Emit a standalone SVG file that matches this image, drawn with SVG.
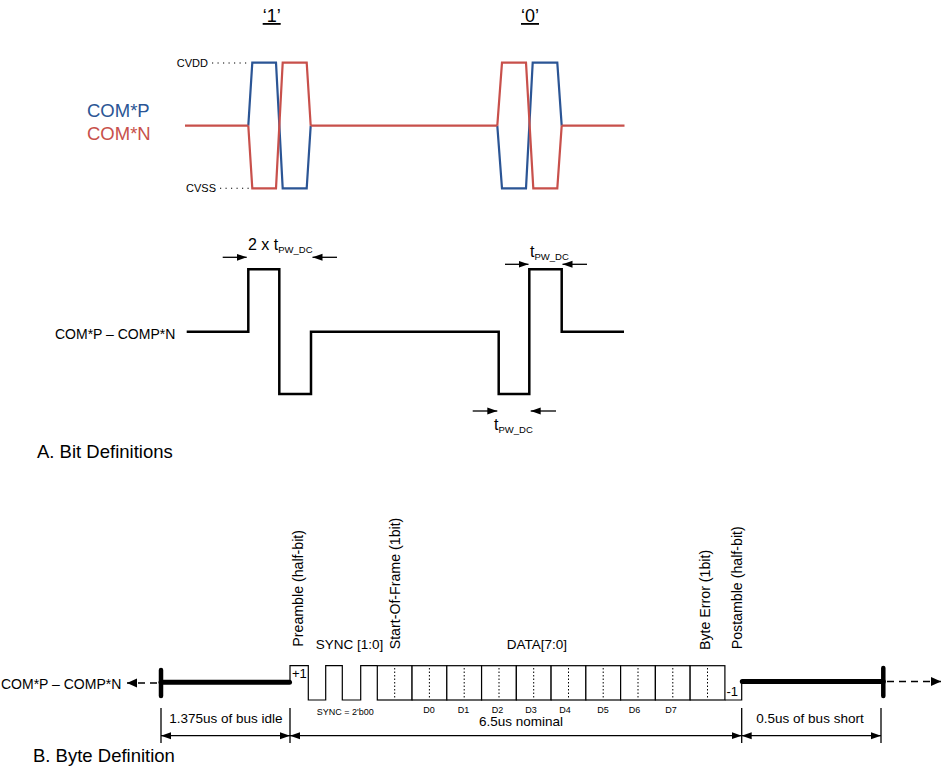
<svg xmlns="http://www.w3.org/2000/svg" width="942" height="769" viewBox="0 0 942 769">
<defs>
<style>
text{font-family:"Liberation Sans",Arial,sans-serif;fill:#000}
.blue{stroke:#2B5595;fill:none;stroke-width:2.2;stroke-linejoin:miter}
.red{stroke:#C8504B;fill:none;stroke-width:2.2;stroke-linejoin:miter}
.sig{stroke:#000;fill:none;stroke-width:2.5;stroke-linejoin:miter}
.thin{stroke:#000;fill:none;stroke-width:1.2}
.dim{stroke:#000;fill:none;stroke-width:1.3}
.dot{stroke:#000;stroke-width:1.1;stroke-dasharray:1.2 4.3;fill:none}
.bdot{stroke:#000;stroke-width:1;stroke-dasharray:1.5 2;fill:none}
.thick{stroke:#000;stroke-width:5;stroke-linecap:round;fill:none}
.tick{stroke:#000;stroke-width:4.5;stroke-linecap:round;fill:none}
.dash{stroke:#000;stroke-width:1.5;stroke-dasharray:7 5;fill:none}
.box{fill:#fff;stroke:#000;stroke-width:1.2}
.rot{font-size:14.2px}
.dl{font-size:9px;text-anchor:middle}
</style>
<marker id="ah" markerUnits="userSpaceOnUse" markerWidth="11" markerHeight="8" refX="10" refY="4" orient="auto-start-reverse"><path d="M0,0.5 L10,4 L0,7.5 z" fill="#000"/></marker>
<marker id="ahb" markerUnits="userSpaceOnUse" markerWidth="11" markerHeight="10" refX="10" refY="5" orient="auto-start-reverse"><path d="M0,0.5 L10,5 L0,9.5 z" fill="#000"/></marker>
</defs>
<rect width="942" height="769" fill="#fff"/>

<!-- A. Bit definitions: line-level waveforms -->
<g id="bit-labels">
  <text x="271.7" y="22" font-size="18" text-anchor="middle" text-decoration="underline">‘1’</text>
  <text x="530" y="22" font-size="18" text-anchor="middle" text-decoration="underline">‘0’</text>
  <text x="208" y="66.5" font-size="11" text-anchor="end">CVDD</text>
  <text x="216" y="191.5" font-size="11" text-anchor="end">CVSS</text>
  <line class="dot" x1="212" y1="63" x2="248" y2="63"/>
  <line class="dot" x1="220" y1="188.3" x2="252" y2="188.3"/>
  <text x="87" y="116.5" font-size="18.5" fill="#2B5595" style="fill:#2B5595">COM*P</text>
  <text x="87" y="140" font-size="18.5" style="fill:#C8504B">COM*N</text>
</g>
<g id="line-waveforms">
  <path class="blue" d="M248.3,125.7 L252.3,62.7 L276,62.7 L282.7,188.3 L306.7,188.3 L310.7,125.7"/>
  <path class="red" d="M248.3,125.7 L252.3,188.3 L276,188.3 L282.7,62.7 L306.7,62.7 L310.7,125.7"/>
  <path class="blue" d="M497.3,125.7 L502,188.3 L526,188.3 L532.7,62.7 L557.3,62.7 L561.7,125.7"/>
  <path class="red" d="M497.3,125.7 L502,62.7 L526,62.7 L533.3,188.3 L557.3,188.3 L561.7,125.7"/>
  <path class="red" d="M185,125.7 H248.3 M310.7,125.7 H497.3 M561.7,125.7 H624.5"/>
</g>

<!-- differential waveform -->
<g id="diff-waveform">
  <text x="55" y="338.5" font-size="14">COM*P – COMP*N</text>
  <path class="sig" d="M186.7,331.7 H248.3 V269.3 H279.3 V394 H311 V331.7 H498.7 V394 H529.3 V269.3 H561.7 V331.7 H624"/>
  <text x="248" y="250" font-size="16">2 x t<tspan font-size="9.5" dy="3">PW_DC</tspan></text>
  <text x="530" y="257" font-size="16">t<tspan font-size="9.5" dy="3">PW_DC</tspan></text>
  <text x="494" y="430" font-size="16">t<tspan font-size="9.5" dy="3">PW_DC</tspan></text>
</g>
<g id="connectors">
  <line class="dim" x1="222.7" y1="257.3" x2="246.7" y2="257.3" marker-end="url(#ah)"/>
  <line class="dim" x1="337" y1="257.3" x2="312.5" y2="257.3" marker-end="url(#ah)"/>
  <line class="dim" x1="505" y1="264.3" x2="528.5" y2="264.3" marker-end="url(#ah)"/>
  <line class="dim" x1="587" y1="264.3" x2="562.5" y2="264.3" marker-end="url(#ah)"/>
  <line class="dim" x1="472.7" y1="411" x2="497.3" y2="411" marker-end="url(#ah)"/>
  <line class="dim" x1="556" y1="411" x2="530.7" y2="411" marker-end="url(#ah)"/>
  <!-- byte definition dimension lines -->
  <line class="dim" x1="161" y1="708" x2="161" y2="743"/>
  <line class="dim" x1="290" y1="708" x2="290" y2="743"/>
  <line class="dim" x1="741.7" y1="708" x2="741.7" y2="743"/>
  <line class="dim" x1="881" y1="708" x2="881" y2="743"/>
  <line class="dim" x1="161" y1="735.7" x2="290" y2="735.7" marker-start="url(#ah)" marker-end="url(#ah)"/>
  <line class="dim" x1="290" y1="735.7" x2="741.7" y2="735.7" marker-start="url(#ah)" marker-end="url(#ah)"/>
  <line class="dim" x1="741.7" y1="735.7" x2="881" y2="735.7" marker-start="url(#ah)" marker-end="url(#ah)"/>
  <line class="dash" x1="157" y1="683" x2="127" y2="683" marker-end="url(#ahb)"/>
  <line class="dash" x1="887" y1="681.5" x2="941" y2="681.5" marker-end="url(#ahb)"/>
</g>
<text x="37" y="458" font-size="18.5">A. Bit Definitions</text>

<!-- B. Byte definition -->
<g id="byte-waveform">
  <text x="1" y="689" font-size="14">COM*P – COMP*N</text>
  <line class="thick" x1="161" y1="682.3" x2="289.5" y2="682.3"/>
  <line class="tick" x1="161" y1="670" x2="161" y2="696"/>
  <line class="thick" x1="742.3" y1="681.5" x2="883.3" y2="681.5"/>
  <line class="tick" x1="883.3" y1="668" x2="883.3" y2="696"/>
  <path class="thin" d="M290,682 V665.7 H308.3 V700 H325.7 V665.7 H342.3 V700 H360.7 V665.7 H377.3"/>
  <path class="thin" d="M724.9,700 H741.7 V681.5"/>
  <text x="292" y="678" font-size="13">+1</text>
  <text x="726.5" y="696" font-size="13">-1</text>
</g>
<g id="bit-boxes">
  <rect class="box" x="377.3" y="665.7" width="34.76" height="34.3"/>
  <rect class="box" x="412.06" y="665.7" width="34.76" height="34.3"/>
  <rect class="box" x="446.82" y="665.7" width="34.76" height="34.3"/>
  <rect class="box" x="481.58" y="665.7" width="34.76" height="34.3"/>
  <rect class="box" x="516.34" y="665.7" width="34.76" height="34.3"/>
  <rect class="box" x="551.1" y="665.7" width="34.76" height="34.3"/>
  <rect class="box" x="585.86" y="665.7" width="34.76" height="34.3"/>
  <rect class="box" x="620.62" y="665.7" width="34.76" height="34.3"/>
  <rect class="box" x="655.38" y="665.7" width="34.76" height="34.3"/>
  <rect class="box" x="690.14" y="665.7" width="34.76" height="34.3"/>
  <path class="bdot" d="M394.7,668 V699 M429.4,668 V699 M464.2,668 V699 M499,668 V699 M533.7,668 V699 M568.5,668 V699 M603.2,668 V699 M638,668 V699 M672.8,668 V699 M707.5,668 V699"/>
  <text class="dl" x="429" y="713">D0</text>
  <text class="dl" x="463.5" y="713">D1</text>
  <text class="dl" x="497.5" y="713">D2</text>
  <text class="dl" x="531" y="713">D3</text>
  <text class="dl" x="565" y="713">D4</text>
  <text class="dl" x="603" y="713">D5</text>
  <text class="dl" x="634.5" y="713">D6</text>
  <text class="dl" x="671" y="713">D7</text>
  <text x="316.7" y="714.5" font-size="9">SYNC = 2'b00</text>
</g>
<g id="byte-labels">
  <text class="rot" transform="translate(302.5,646.7) rotate(-90)">Preamble (half-bit)</text>
  <text class="rot" transform="translate(399.5,649.3) rotate(-90)">Start-Of-Frame (1bit)</text>
  <text class="rot" transform="translate(709.5,650) rotate(-90)">Byte Error (1bit)</text>
  <text class="rot" transform="translate(741.5,649.3) rotate(-90)">Postamble (half-bit)</text>
  <text x="315.7" y="649" font-size="13.5">SYNC [1:0]</text>
  <text x="506.7" y="649" font-size="13.5">DATA[7:0]</text>
  <text x="521" y="725.5" font-size="13.5" text-anchor="middle">6.5us nominal</text>
  <text x="225.8" y="723" font-size="13.5" text-anchor="middle">1.375us of bus idle</text>
  <text x="810" y="723" font-size="13.5" text-anchor="middle">0.5us of bus short</text>
  <text x="33" y="761.5" font-size="18.5">B. Byte Definition</text>
</g>
</svg>
